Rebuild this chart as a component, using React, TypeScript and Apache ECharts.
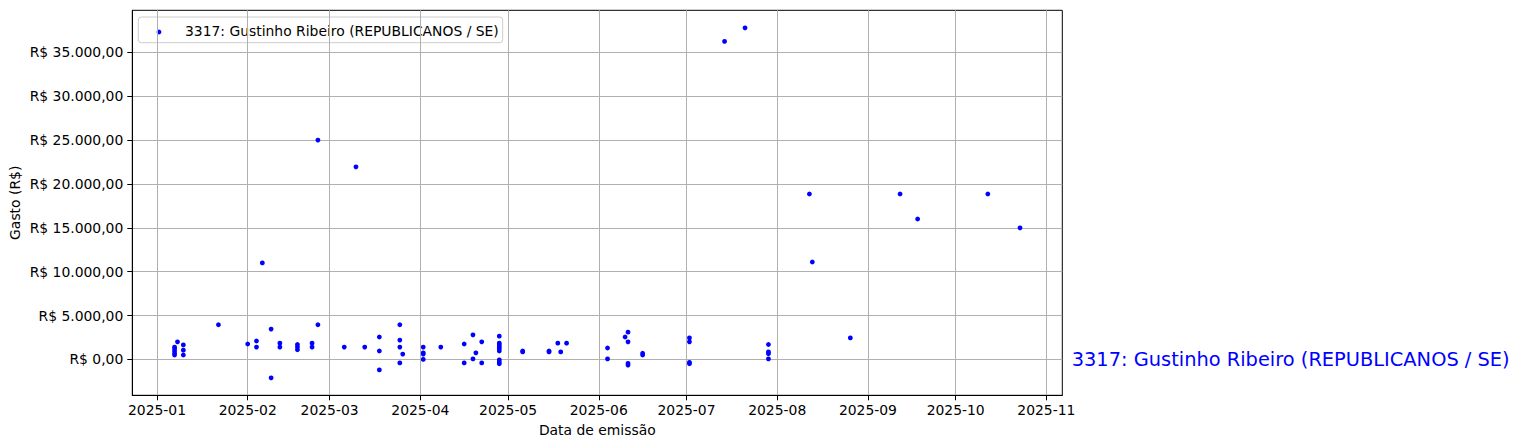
import React, { useEffect, useRef } from "react";
import * as echarts from "echarts";

const seriesName = "3317: Gustinho Ribeiro (REPUBLICANOS / SE)";

const expenseDates: string[] = [
  "2025-01-07", "2025-01-07", "2025-01-07", "2025-01-07", "2025-01-07",
  "2025-01-08",
  "2025-01-10", "2025-01-10", "2025-01-10",
  "2025-01-22",
  "2025-02-01",
  "2025-02-04", "2025-02-04",
  "2025-02-06",
  "2025-02-09", "2025-02-09",
  "2025-02-12", "2025-02-12",
  "2025-02-18", "2025-02-18", "2025-02-18",
  "2025-02-23", "2025-02-23",
  "2025-02-25", "2025-02-25",
  "2025-03-06",
  "2025-03-10",
  "2025-03-13",
  "2025-03-18", "2025-03-18", "2025-03-18",
  "2025-03-25", "2025-03-25", "2025-03-25", "2025-03-25",
  "2025-03-26",
  "2025-04-02", "2025-04-02", "2025-04-02", "2025-04-02",
  "2025-04-08",
  "2025-04-16", "2025-04-16",
  "2025-04-19", "2025-04-19",
  "2025-04-20",
  "2025-04-22", "2025-04-22",
  "2025-04-28", "2025-04-28", "2025-04-28", "2025-04-28", "2025-04-28", "2025-04-28", "2025-04-28", "2025-04-28", "2025-04-28",
  "2025-05-06", "2025-05-06",
  "2025-05-15", "2025-05-15",
  "2025-05-18",
  "2025-05-19",
  "2025-05-21",
  "2025-06-04", "2025-06-04",
  "2025-06-10",
  "2025-06-11", "2025-06-11", "2025-06-11", "2025-06-11",
  "2025-06-16", "2025-06-16",
  "2025-07-02", "2025-07-02", "2025-07-02", "2025-07-02",
  "2025-07-14",
  "2025-07-21",
  "2025-07-29", "2025-07-29", "2025-07-29", "2025-07-29",
  "2025-08-12",
  "2025-08-13",
  "2025-08-26",
  "2025-09-12",
  "2025-09-18",
  "2025-10-12",
  "2025-10-23",
];

const expenseValues: number[] = [
  1400, 1200, 950, 700, 500,
  2000,
  1650, 1050, 500,
  3950,
  1750,
  2100, 1400,
  11000,
  3450, -2100,
  1850, 1400,
  1700, 1400, 1100,
  1850, 1400,
  3950, 25000,
  1400,
  21950,
  1400,
  2550, 950, -1200,
  3950, 2200, 1400, -400,
  600,
  1400, 750, 600, 0,
  1400,
  1750, -400,
  2800, 50,
  750,
  2000, -400,
  2650, 1850, 1650, 1400, 1200, 950, -50, -300, -500,
  950, 850,
  950, 850,
  1850,
  850,
  1850,
  1300, 50,
  2550,
  3100, 2000, -450, -650,
  700, 500,
  2450, 2000, -350, -500,
  36250,
  37800,
  1700, 850, 650, 50,
  18850,
  11100,
  2450,
  18850,
  16000,
  18850,
  15000,
];

const xTickLabels: string[] = [
  "2025-01", "2025-02", "2025-03", "2025-04", "2025-05", "2025-06",
  "2025-07", "2025-08", "2025-09", "2025-10", "2025-11",
];

const yTickValues: number[] = [0, 5000, 10000, 15000, 20000, 25000, 30000, 35000];

const toTs = (s: string): number => {
  const parts = s.split("-").map(Number);
  return Date.UTC(parts[0], parts[1] - 1, parts[2] || 1);
};

const fmtMonth = (v: number): string => {
  const d = new Date(v);
  return `${d.getUTCFullYear()}-${String(d.getUTCMonth() + 1).padStart(2, "0")}`;
};

const brl = (v: number): string => {
  const neg = v < 0;
  const [i, f] = Math.abs(v).toFixed(2).split(".");
  const withDots = i.replace(/\B(?=(\d{3})+(?!\d))/g, ".");
  return `R$ ${neg ? "-" : ""}${withDots},${f}`;
};

const FONT = "DejaVu Sans";

export default function App() {
  const ref = useRef<HTMLDivElement>(null);

  useEffect(() => {
    document.body.style.margin = "0";
    if (!ref.current) return;
    const chart = echarts.init(ref.current, undefined, { renderer: "svg" });

    const data = expenseDates.map((d, i) => [toTs(d), expenseValues[i]]);
    const xs = data.map((p) => p[0]);
    const ys = data.map((p) => p[1]);
    const xLo = Math.min(...xs);
    const xHi = Math.max(...xs);
    const yLo = Math.min(...ys);
    const yHi = Math.max(...ys);
    const xPad = (xHi - xLo) * 0.05;
    const yPad = (yHi - yLo) * 0.05;
    const xTickTs = xTickLabels.map(toTs);

    const gridLeft = 132.3;
    const gridRight = 1062.3;
    const gridTop = 10.3;
    const gridBottom = 395.3;

    chart.setOption({
      animation: false,
      textStyle: { fontFamily: FONT },
      grid: {
        left: gridLeft,
        right: 1520 - gridRight,
        top: gridTop,
        bottom: 448 - gridBottom,
        containLabel: false,
        outerBoundsMode: "none",
        show: true,
        borderColor: "#000",
        borderWidth: 1,
        backgroundColor: "transparent",
      },
      xAxis: {
        type: "value",
        min: xLo - xPad,
        max: xHi + xPad,
        axisLine: { show: true, onZero: false, lineStyle: { color: "#000", width: 1 } },
        axisTick: { show: true, inside: false, length: 5, customValues: xTickTs, lineStyle: { color: "#000", width: 1 } },
        axisLabel: {
          customValues: xTickTs,
          formatter: (v: number) => fmtMonth(v),
          color: "#000",
          fontSize: 13.9,
          fontFamily: FONT,
          margin: 8,
        },
        splitLine: { show: true, lineStyle: { color: "#b0b0b0", width: 1 } },
      },
      yAxis: {
        type: "value",
        min: yLo - yPad,
        max: yHi + yPad,
        axisLine: { show: true, onZero: false, lineStyle: { color: "#000", width: 1 } },
        axisTick: { show: true, inside: false, length: 5, customValues: yTickValues, lineStyle: { color: "#000", width: 1 } },
        axisLabel: {
          customValues: yTickValues,
          formatter: (v: number) => brl(v),
          color: "#000",
          fontSize: 13.9,
          fontFamily: FONT,
          margin: 9,
        },
        splitLine: { show: true, lineStyle: { color: "#b0b0b0", width: 1 } },
      },
      series: [
        {
          type: "scatter",
          name: seriesName,
          data,
          symbol: "circle",
          symbolSize: 4.8,
          itemStyle: { color: "#0000ff", opacity: 1 },
        },
      ],
      graphic: [
        {
          type: "text",
          x: 15,
          y: (gridTop + gridBottom) / 2,
          rotation: Math.PI / 2,
          style: {
            text: "Gasto (R$)",
            fill: "#000",
            font: `13.9px '${FONT}'`,
            align: "center",
            verticalAlign: "middle",
            textAlign: "center",
            textVerticalAlign: "middle",
          },
        },
        {
          type: "text",
          x: (gridLeft + gridRight) / 2,
          y: 430,
          style: {
            text: "Data de emissão",
            fill: "#000",
            font: `13.9px '${FONT}'`,
            align: "center",
            verticalAlign: "middle",
            textAlign: "center",
            textVerticalAlign: "middle",
          },
        },
        {
          type: "text",
          x: 1071.7,
          y: 359.5,
          style: {
            text: seriesName,
            fill: "#0000ff",
            font: `19.4px '${FONT}'`,
            align: "left",
            verticalAlign: "middle",
            textAlign: "left",
            textVerticalAlign: "middle",
          },
        },
        {
          type: "group",
          z: 100,
          children: [
            {
              type: "rect",
              shape: { x: 138.3, y: 17, width: 364.4, height: 25.7, r: 3 },
              style: { fill: "rgba(255,255,255,0.8)", stroke: "#cccccc", lineWidth: 1 },
            },
            {
              type: "circle",
              shape: { cx: 159, cy: 32, r: 2.4 },
              style: { fill: "#0000ff" },
            },
            {
              type: "text",
              x: 185,
              y: 30.5,
              style: {
                text: seriesName,
                fill: "#000",
                font: `13.9px '${FONT}'`,
                align: "left",
                verticalAlign: "middle",
                textAlign: "left",
                textVerticalAlign: "middle",
              },
            },
          ],
        },
      ],
    });

    return () => {
      chart.dispose();
    };
  }, []);

  return <div ref={ref} style={{ width: 1520, height: 448 }} />;
}
